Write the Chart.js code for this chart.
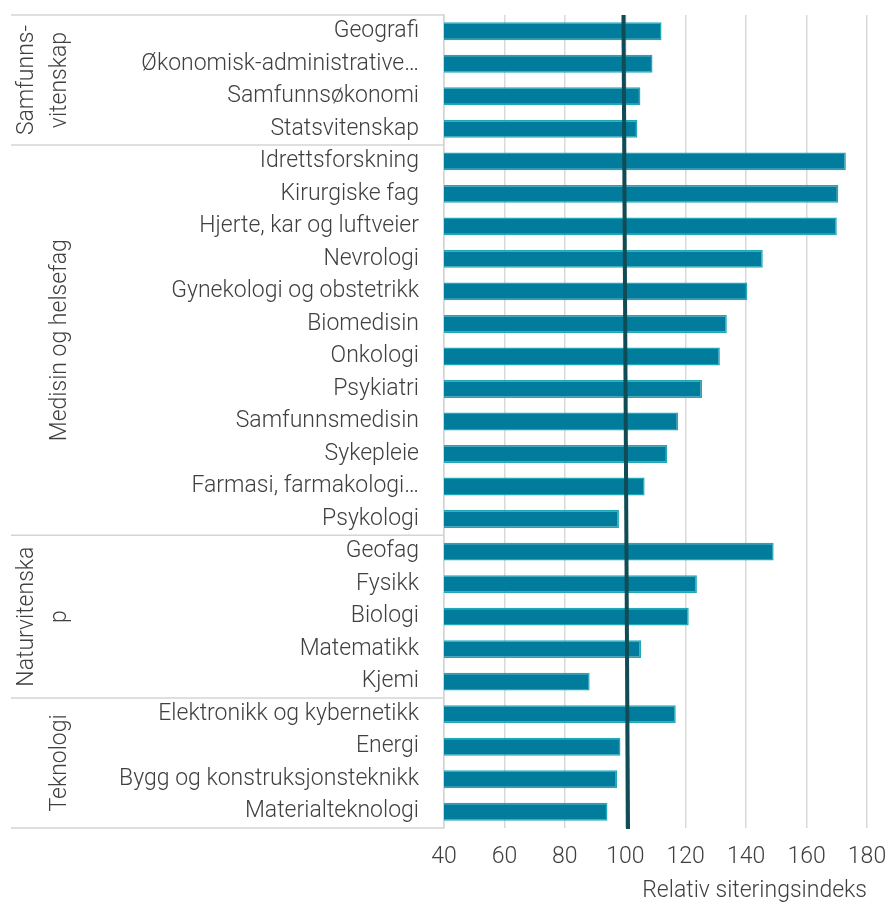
<!DOCTYPE html>
<html>
<head>
<meta charset="utf-8">
<script src="https://cdn.jsdelivr.net/npm/chart.js@4/dist/chart.umd.min.js"></script>
<style>
  body { margin: 0; background: #fff; }
  #wrap { width: 889px; height: 905px; }
</style>
</head>
<body>
<div id="wrap"><canvas id="chart" width="889" height="905"></canvas></div>
<script>
// fagfelt, i samme rekkefolge som i figuren (ovenfra og ned)
const categories = [
  "Geografi", "Økonomisk-administrative…", "Samfunnsøkonomi", "Statsvitenskap",
  "Idrettsforskning", "Kirurgiske fag", "Hjerte, kar og luftveier", "Nevrologi",
  "Gynekologi og obstetrikk", "Biomedisin", "Onkologi", "Psykiatri",
  "Samfunnsmedisin", "Sykepleie", "Farmasi, farmakologi…", "Psykologi",
  "Geofag", "Fysikk", "Biologi", "Matematikk", "Kjemi",
  "Elektronikk og kybernetikk", "Energi", "Bygg og konstruksjonsteknikk", "Materialteknologi"
];
const citationIndex = [
  112, 109, 105, 104,
  173, 170.5, 170, 145.5, 140.4, 133.6, 131.3, 125.4, 117.5, 113.9, 106.4, 97.9,
  149.1, 123.7, 121, 105.2, 88.2,
  116.7, 98.4, 97.3, 94.1
];
const groupNames = [["Samfunns-", "vitenskap"], ["Medisin og helsefag"], ["Naturvitenska", "p"], ["Teknologi"]];
const groupSizes = [4, 12, 5, 4];
const xTicks = [40, 60, 80, 100, 120, 140, 160, 180];
const refLine = [99.4, 100.9]; // verdi 100, topp og bunn
const axisTitle = "Relativ siteringsindeks";

const textColor = "#404040";
const fontFamily = "Roboto, 'Noto Sans', sans-serif";
const fontSize = 23;

// gruppeetiketter og skillelinjer til venstre
const groupPlugin = {
  id: "groups",
  afterDraw(chart) {
    const ctx = chart.ctx;
    const y = chart.scales.y;
    const step = y.getPixelForValue(1) - y.getPixelForValue(0);
    const right = y.right;
    let start = 0;
    const lines = [y.getPixelForValue(0) - step / 2];
    ctx.save();
    ctx.fillStyle = textColor;
    ctx.font = "300 " + fontSize + "px " + fontFamily;
    ctx.textAlign = "center";
    ctx.textBaseline = "middle";
    groupSizes.forEach((n, g) => {
      const top = y.getPixelForValue(start) - step / 2;
      const bottom = y.getPixelForValue(start + n - 1) + step / 2;
      lines.push(bottom);
      const mid = (top + bottom) / 2;
      const txt = groupNames[g];
      txt.forEach((t, k) => {
        const cx = 60 - (txt.length - 1 - k) * 33;
        ctx.save();
        ctx.translate(cx, mid);
        ctx.rotate(-Math.PI / 2);
        ctx.fillText(t, 0, 0);
        ctx.restore();
      });
      start += n;
    });
    ctx.strokeStyle = "#d4d4d4";
    ctx.lineWidth = 1.5;
    lines.forEach(py => {
      ctx.beginPath();
      ctx.moveTo(11, py);
      ctx.lineTo(right, py);
      ctx.stroke();
    });
    ctx.restore();
  }
};

// referanselinje ved 100
const refPlugin = {
  id: "refline",
  afterDatasetsDraw(chart) {
    const { ctx, chartArea } = chart;
    const x = chart.scales.x;
    ctx.save();
    ctx.strokeStyle = "#0f4c55";
    ctx.lineWidth = 4;
    ctx.beginPath();
    ctx.moveTo(x.getPixelForValue(refLine[0]), chartArea.top);
    ctx.lineTo(x.getPixelForValue(refLine[1]), chartArea.bottom + 1);
    ctx.stroke();
    ctx.restore();
  }
};

const ctx = document.getElementById("chart").getContext("2d");
const chart = new Chart(ctx, {
  type: "bar",
  data: {
    labels: categories,
    datasets: [
      {
        label: "Relativ siteringsindeks",
        data: citationIndex,
        backgroundColor: "#027c9d",
        borderColor: "#1fa8b8",
        borderWidth: 1.5,
        borderSkipped: false,
        barPercentage: 0.55,
        categoryPercentage: 1,
      },
    ],
  },
  options: {
    indexAxis: "y",
    responsive: false,
    animation: false,
    layout: { padding: { top: 15, right: 0, bottom: 0, left: 0 } },
    plugins: {
      legend: { display: false },
      tooltip: { enabled: false },
    },
    scales: {
      x: {
        type: "linear",
        min: xTicks[0],
        max: xTicks[xTicks.length - 1],
        afterBuildTicks(scale) {
          scale.ticks = xTicks.map(v => ({ value: v }));
        },
        afterFit(scale) {
          scale.height = 77;
          scale.paddingLeft = 0;
          scale.paddingRight = 22;
        },
        grid: { color: "#d9d9d9", lineWidth: 1.5, drawTicks: false },
        border: { display: false },
        ticks: {
          color: textColor,
          padding: 15,
          font: { family: fontFamily, size: fontSize, weight: "300" },
        },
        title: {
          display: true,
          text: axisTitle,
          align: "end",
          color: textColor,
          padding: 0,
          font: { family: fontFamily, size: fontSize, weight: "300" },
        },
      },
      y: {
        type: "category",
        afterFit(scale) {
          scale.width = 444;
          scale.paddingTop = 0;
          scale.paddingBottom = 0;
        },
        grid: { display: false, drawTicks: false },
        border: { display: true, color: "#d4d4d4", width: 1.5 },
        ticks: {
          color: textColor,
          padding: 25,
          autoSkip: false,
          font: { family: fontFamily, size: fontSize, weight: "300" },
        },
      },
    },
  },
  plugins: [groupPlugin, refPlugin],
});
</script>
</body>
</html>
